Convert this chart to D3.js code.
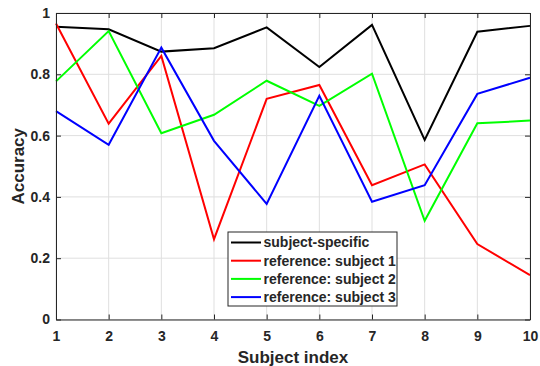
<!DOCTYPE html>
<html>
<head>
<meta charset="utf-8">
<script src="https://cdn.jsdelivr.net/npm/d3@7"></script>
<style>
  body { margin: 0; background: #fff; }
  text { font-family: "Liberation Sans", Arial, sans-serif; font-weight: bold; fill: #262626; }
</style>
</head>
<body>
<script>
// subject index 1..10
const subjects = [1, 2, 3, 4, 5, 6, 7, 8, 9, 10];

// accuracy per subject
const subjectSpecific = [0.955, 0.947, 0.874, 0.885, 0.953, 0.824, 0.961, 0.586, 0.939, 0.958];
const refSubject1 = [0.966, 0.639, 0.860, 0.262, 0.720, 0.765, 0.438, 0.506, 0.246, 0.145];
const refSubject2 = [0.777, 0.941, 0.608, 0.668, 0.779, 0.697, 0.802, 0.322, 0.640, 0.649];
const refSubject3 = [0.680, 0.570, 0.887, 0.583, 0.377, 0.730, 0.384, 0.438, 0.736, 0.789];

const seriesNames = ["subject-specific", "reference: subject 1", "reference: subject 2", "reference: subject 3"];
const seriesValues = [subjectSpecific, refSubject1, refSubject2, refSubject3];
const seriesColors = ["#000000", "#ff0000", "#00ff00", "#0000ff"];

const yTicks = [0, 0.2, 0.4, 0.6, 0.8, 1];

// dimensions
const WIDTH = 540;
const HEIGHT = 366;
const MARGIN = {top: 13, bottom: 46.5, left: 56, right: 10};

const svg = d3.select("body")
  .append("svg")
  .attr("width", WIDTH)
  .attr("height", HEIGHT);

const xScale = d3.scaleLinear()
  .domain([1, 10])
  .range([MARGIN.left, WIDTH - MARGIN.right]);

const yScale = d3.scaleLinear()
  .domain([0, 1])
  .range([HEIGHT - MARGIN.bottom, MARGIN.top]);

// grid lines
const grid = svg.append("g");
grid.selectAll(".vgrid")
  .data(subjects)
  .enter()
  .append("line")
  .attr("x1", d => xScale(d)).attr("x2", d => xScale(d))
  .attr("y1", yScale(0)).attr("y2", yScale(1))
  .attr("stroke", "#dfdfdf").attr("stroke-width", 1);
grid.selectAll(".hgrid")
  .data(yTicks)
  .enter()
  .append("line")
  .attr("x1", xScale(1)).attr("x2", xScale(10))
  .attr("y1", d => yScale(d)).attr("y2", d => yScale(d))
  .attr("stroke", "#dfdfdf").attr("stroke-width", 1);

// lines
const line = d3.line()
  .x((d, i) => xScale(subjects[i]))
  .y(d => yScale(d));

svg.selectAll(".series")
  .data(seriesValues)
  .enter()
  .append("path")
  .attr("d", d => line(d))
  .attr("fill", "none")
  .attr("stroke", (d, i) => seriesColors[i])
  .attr("stroke-width", 2)
  .attr("stroke-linejoin", "miter");

// axes: ticks inward, MATLAB style
const tickLen = 5;
const xAxis = d3.axisBottom(xScale).tickValues(subjects).tickSizeInner(-tickLen).tickSizeOuter(0).tickPadding(12).tickFormat(d3.format("d"));
const yAxis = d3.axisLeft(yScale).tickValues(yTicks).tickSizeInner(-tickLen).tickSizeOuter(0).tickPadding(6).tickFormat(d => d === 0 || d === 1 ? String(d) : d.toFixed(1));
const xTop = d3.axisTop(xScale).tickValues(subjects).tickSizeInner(-tickLen).tickSizeOuter(0).tickFormat("");
const yRight = d3.axisRight(yScale).tickValues(yTicks).tickSizeInner(-tickLen).tickSizeOuter(0).tickFormat("");

function styleAxis(g) {
  g.selectAll("path").attr("stroke", "#262626").attr("stroke-width", 1);
  g.selectAll("line").attr("stroke", "#262626").attr("stroke-width", 1);
  g.selectAll("text").style("font-size", "14px").attr("fill", "#262626");
}

svg.append("g")
  .attr("transform", "translate(0," + yScale(0) + ")")
  .call(xAxis).call(styleAxis);
svg.append("g")
  .attr("transform", "translate(" + xScale(1) + ",0)")
  .call(yAxis).call(styleAxis);
svg.append("g")
  .attr("transform", "translate(0," + yScale(1) + ")")
  .call(xTop).call(styleAxis);
svg.append("g")
  .attr("transform", "translate(" + xScale(10) + ",0)")
  .call(yRight).call(styleAxis);

// axis titles
svg.append("text")
  .attr("x", (xScale(1) + xScale(10)) / 2)
  .attr("y", 363)
  .attr("text-anchor", "middle")
  .style("font-size", "17px")
  .text("Subject index");

svg.append("text")
  .attr("transform", "translate(24," + (yScale(0) + yScale(1)) / 2 + ") rotate(-90)")
  .attr("text-anchor", "middle")
  .style("font-size", "17px")
  .text("Accuracy");

// legend
const legend = svg.append("g").attr("transform", "translate(228,232)");
legend.append("rect")
  .attr("width", 169).attr("height", 74)
  .attr("fill", "#fff")
  .attr("stroke", "#262626").attr("stroke-width", 1);

const rows = legend.selectAll(".entry")
  .data(seriesNames)
  .enter()
  .append("g")
  .attr("transform", (d, i) => "translate(0," + (10.5 + i * 18.2) + ")");
rows.append("line")
  .attr("x1", 3).attr("x2", 33)
  .attr("stroke", (d, i) => seriesColors[i])
  .attr("stroke-width", 2);
rows.append("text")
  .attr("x", 35.5)
  .attr("dy", "0.35em")
  .style("font-size", "14px")
  .attr("fill", "#000")
  .text(d => d);
</script>
</body>
</html>
